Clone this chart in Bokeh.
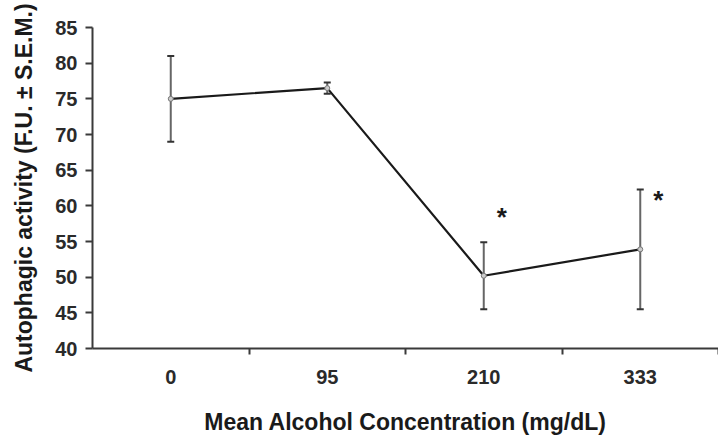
from bokeh.plotting import figure
from bokeh.models import FixedTicker, Range1d, Whisker, ColumnDataSource, TeeHead
from bokeh.core.properties import value
from bokeh.embed import file_html
from bokeh.resources import INLINE

# data
concentrations = ["0", "95", "210", "333"]
activity = [75.0, 76.5, 50.2, 53.9]
sem = [6.0, 0.8, 4.7, 8.4]
y_ticks = [40, 45, 50, 55, 60, 65, 70, 75, 80, 85]
star_idx = [2, 3]
star_y = [58.5, 60.8]

xs = [i + 0.5 for i in range(len(concentrations))]
upper = [a + s for a, s in zip(activity, sem)]
lower = [a - s for a, s in zip(activity, sem)]

p = figure(width=718, height=437, output_backend="svg", toolbar_location=None,
           x_range=Range1d(0, len(concentrations)), y_range=Range1d(40, 85),
           min_border_left=92, min_border_right=0, min_border_top=27, min_border_bottom=89)
p.outline_line_color = None
p.xgrid.visible = False
p.ygrid.visible = False

FONT = "Liberation Sans"
axis_color = "#3a3a3a"

# x axis: labels at category centers, ticks at boundaries
p.xaxis.ticker = FixedTicker(ticks=xs, minor_ticks=[float(i + 1) for i in range(len(concentrations))])
p.xaxis.major_label_overrides = {x: c for x, c in zip(xs, concentrations)}
p.xaxis.major_tick_line_color = None
p.xaxis.major_tick_out = 6
p.xaxis.minor_tick_out = 6
p.xaxis.minor_tick_in = 0
p.xaxis.minor_tick_line_color = axis_color
p.xaxis.minor_tick_line_width = 2
p.xaxis.major_label_standoff = 15
p.xaxis.axis_label = "Mean Alcohol Concentration (mg/dL)"
p.xaxis.axis_label_standoff = 22

p.yaxis.ticker = FixedTicker(ticks=y_ticks, minor_ticks=[])
p.yaxis.major_tick_out = 7
p.yaxis.major_tick_in = 0
p.yaxis.major_tick_line_color = axis_color
p.yaxis.major_tick_line_width = 2
p.yaxis.major_label_standoff = 8
p.yaxis.axis_label = "Autophagic activity (F.U. \u00b1 S.E.M.)"
p.yaxis.axis_label_standoff = 15

for ax in (p.xaxis, p.yaxis):
    ax.axis_line_color = axis_color
    ax.axis_line_width = 2
    ax.major_label_text_font = FONT
    ax.major_label_text_font_style = "bold"
    ax.major_label_text_font_size = "20px"
    ax.major_label_text_color = "#2a2a2a"
    ax.axis_label_text_font = FONT
    ax.axis_label_text_font_style = "bold"
    ax.axis_label_text_font_size = "23px"
    ax.axis_label_text_color = "#1a1a1a"

src = ColumnDataSource(dict(x=xs, y=activity, upper=upper, lower=lower))

w = Whisker(source=src, base="x", upper="upper", lower="lower",
            line_color="#666666", line_width=2,
            upper_head=TeeHead(size=7, line_color="#333333", line_width=2),
            lower_head=TeeHead(size=7, line_color="#333333", line_width=2))
p.add_layout(w)

p.line("x", "y", source=src, line_color="#1a1a1a", line_width=2.2)
p.scatter("x", "y", source=src, size=5, marker="circle", fill_color="#cccccc",
          line_color="#777777", line_width=1)

p.text(x=[xs[i] for i in star_idx], y=star_y, text=["*"] * len(star_idx),
       x_offset=18, text_align="center", text_baseline="middle",
       text_font=value(FONT), text_font_size="26px", text_font_style="bold",
       text_color="#1a1a1a")

open("out.html", "w").write(file_html(p, INLINE))
